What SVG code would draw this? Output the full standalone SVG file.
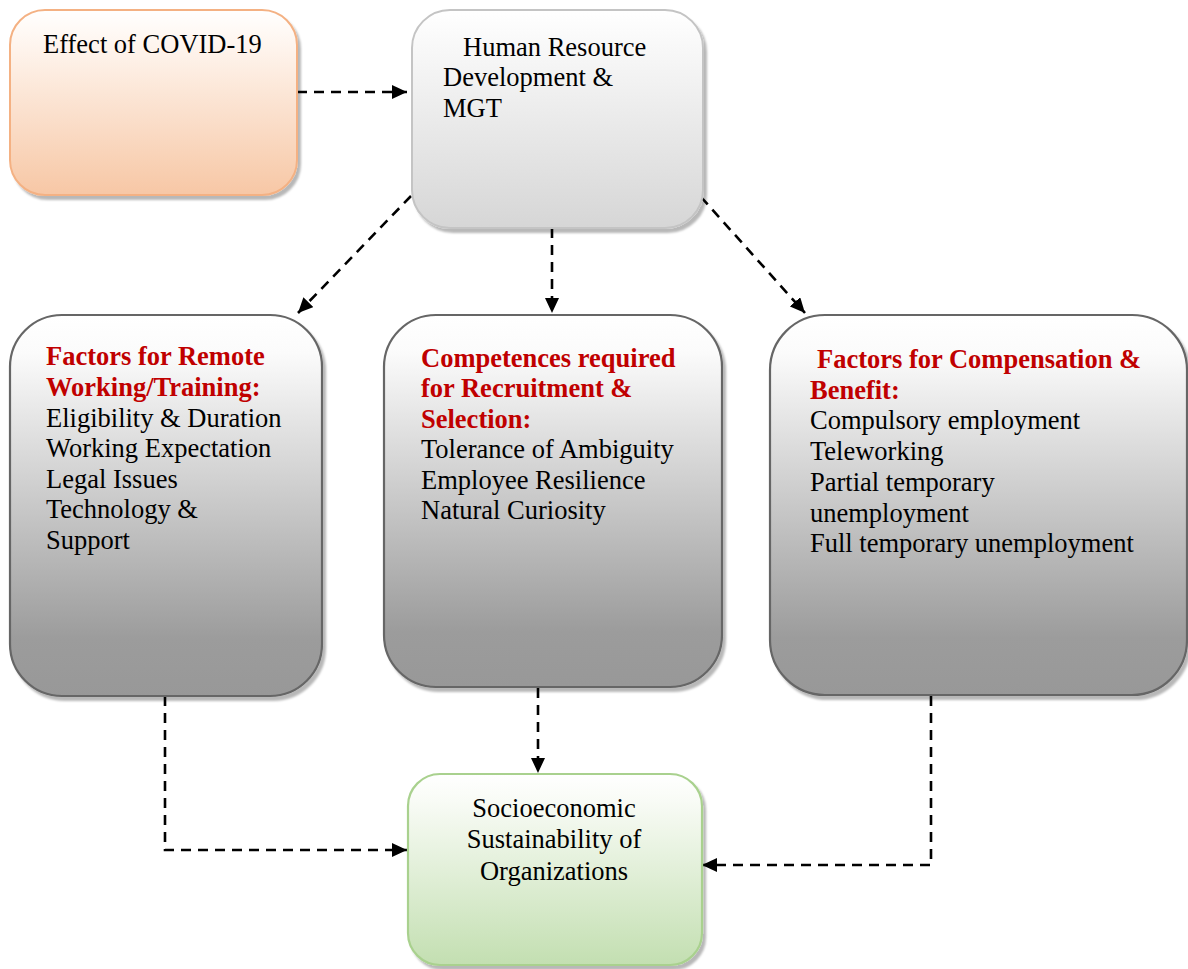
<svg xmlns="http://www.w3.org/2000/svg" width="1188" height="969" viewBox="0 0 1188 969">
<defs>
<linearGradient id="gPeach" x1="0" y1="0" x2="0" y2="1">
<stop offset="0" stop-color="#ffffff"/><stop offset="0.1" stop-color="#fffaf6"/><stop offset="1" stop-color="#f7c7a5"/>
</linearGradient>
<linearGradient id="gLight" x1="0" y1="0" x2="0" y2="1">
<stop offset="0" stop-color="#ffffff"/><stop offset="0.1" stop-color="#fbfbfb"/><stop offset="1" stop-color="#d6d6d6"/>
</linearGradient>
<linearGradient id="gGrey" x1="0" y1="0" x2="0" y2="1">
<stop offset="0" stop-color="#ffffff"/><stop offset="0.1" stop-color="#fbfbfb"/><stop offset="0.85" stop-color="#9c9c9c"/><stop offset="1" stop-color="#989898"/>
</linearGradient>
<linearGradient id="gGreen" x1="0" y1="0" x2="0" y2="1">
<stop offset="0" stop-color="#ffffff"/><stop offset="0.15" stop-color="#f8fbf5"/><stop offset="1" stop-color="#c3dfb1"/>
</linearGradient>
<filter id="sh" x="-10%" y="-10%" width="125%" height="125%">
<feDropShadow dx="3" dy="4" stdDeviation="1.2" flood-color="#000" flood-opacity="0.28"/>
</filter>
<marker id="ah" viewBox="0 0 15 14" markerWidth="15" markerHeight="14" refX="15" refY="7" orient="auto" markerUnits="userSpaceOnUse">
<path d="M0,0 L15,7 L0,14 z" fill="#000"/>
</marker>
<style>
text{font-family:"Liberation Serif","Times New Roman",serif;font-size:26.5px;fill:#000}
.h{font-weight:bold;fill:#c00000}
.c{text-anchor:middle}
.grey{fill:url(#gGrey);stroke:#666;stroke-width:2.2}
.conn{fill:none;stroke:#000;stroke-width:2.6;stroke-dasharray:10 7;marker-end:url(#ah)}
</style>
</defs>

<g id="connectors">
<path class="conn" d="M297,92 L407,92"/>
<path class="conn" d="M411,196 L298,313"/>
<path class="conn" d="M552,228 L552,313"/>
<path class="conn" d="M701,197 L805,313"/>
<path class="conn" d="M165,696 L165,850 L407,850"/>
<path class="conn" d="M538,688 L538,773"/>
<path class="conn" d="M931,696 L931,865 L702,865"/>
</g>

<g id="covid">
<rect x="10" y="10" width="287" height="185" rx="35" fill="url(#gPeach)" stroke="#f4b183" stroke-width="2" filter="url(#sh)"/>
<text x="43" y="53">Effect of COVID-19</text>
</g>

<g id="hr">
<rect x="412" y="10" width="291" height="218" rx="38" fill="url(#gLight)" stroke="#c4c4c4" stroke-width="2" filter="url(#sh)"/>
<text x="463" y="56">Human Resource</text>
<text x="443" y="86">Development &amp;</text>
<text x="443" y="117">MGT</text>
</g>

<g id="remote">
<rect class="grey" x="10" y="315" width="312" height="381" rx="52" filter="url(#sh)"/>
<text class="h" x="46" y="365">Factors for Remote</text>
<text class="h" x="46" y="396">Working/Training:</text>
<text x="46" y="427">Eligibility &amp; Duration</text>
<text x="46" y="457">Working Expectation</text>
<text x="46" y="488">Legal Issues</text>
<text x="46" y="518">Technology &amp;</text>
<text x="46" y="549">Support</text>
</g>

<g id="competences">
<rect class="grey" x="384" y="315" width="338" height="372" rx="52" filter="url(#sh)"/>
<text class="h" x="421" y="367">Competences required</text>
<text class="h" x="421" y="397">for Recruitment &amp;</text>
<text class="h" x="421" y="428">Selection:</text>
<text x="421" y="458">Tolerance of Ambiguity</text>
<text x="421" y="489">Employee Resilience</text>
<text x="421" y="519">Natural Curiosity</text>
</g>

<g id="compensation">
<rect class="grey" x="770" y="315" width="417" height="380" rx="55" filter="url(#sh)"/>
<text class="h" x="817" y="368">Factors for Compensation &amp;</text>
<text class="h" x="810" y="399">Benefit:</text>
<text x="810" y="429">Compulsory employment</text>
<text x="810" y="460">Teleworking</text>
<text x="810" y="491">Partial temporary</text>
<text x="810" y="522">unemployment</text>
<text x="810" y="552">Full temporary unemployment</text>
</g>

<g id="sustainability">
<rect x="408" y="774" width="294" height="191" rx="32" fill="url(#gGreen)" stroke="#a9d18e" stroke-width="2.2" filter="url(#sh)"/>
<text class="c" x="554" y="817">Socioeconomic</text>
<text class="c" x="554" y="848">Sustainability of</text>
<text class="c" x="554" y="880">Organizations</text>
</g>
</svg>
